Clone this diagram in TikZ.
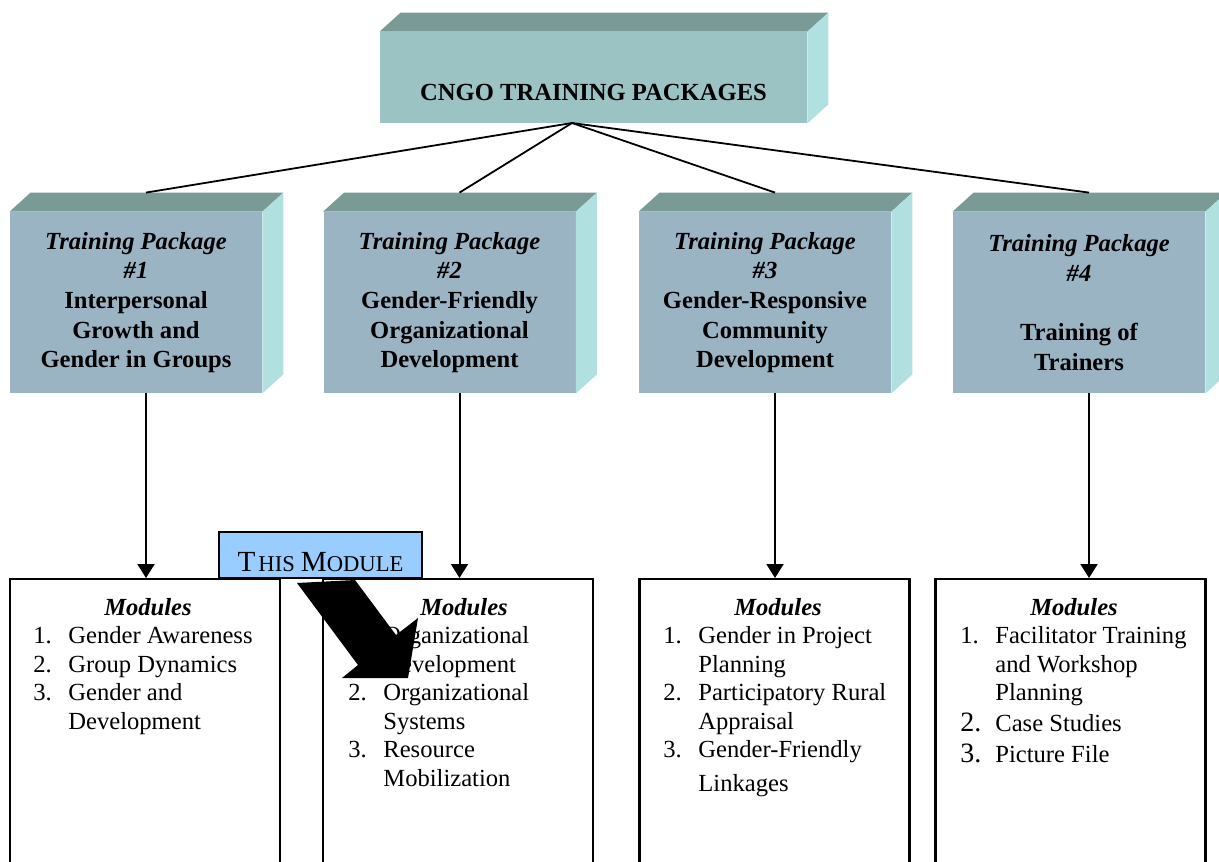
\documentclass[tikz,border=0pt]{standalone}
\usepackage{fontspec}
\setmainfont{Liberation Serif}
\usepackage{tikz}
\usetikzlibrary{arrows.meta}

\definecolor{frontgray}{HTML}{9BB4C4}
\definecolor{fronttitle}{HTML}{9BC3C3}
\definecolor{topgray}{HTML}{7A9A96}
\definecolor{sidecyan}{HTML}{B0E0E0}
\definecolor{modblue}{HTML}{99CCFF}

\begin{document}
\begin{tikzpicture}
  [x=0.5pt, y=-0.5pt, >={Triangle[length=7pt,width=8.5pt]},
   every node/.style={font=\fontsize{12.3}{14.3}\selectfont},
   pkg/.style={fill=frontgray, minimum width=126pt, minimum height=90.5pt, inner sep=0pt,
     align=center, font=\fontsize{12.3}{14.8}\selectfont\bfseries},
   modbox/.style={draw, line width=1.2pt, fill=white, minimum width=135pt,
     minimum height=170pt, anchor=north},
   modlist/.style={anchor=north west, inner sep=0pt},
   modhead/.style={font=\fontsize{12.3}{14.3}\selectfont\bfseries\itshape}]
  \useasboundingbox (0,0) rectangle (1219,861);

  % title and packages
  \node[pkg, fill=fronttitle, minimum width=213.5pt, minimum height=45.5pt,
    text height=23.5pt, text depth=0pt] (top) at (593.5,77.5) {CNGO TRAINING PACKAGES};
  \node[pkg] (pk1) at (136,302.5) {\textit{Training Package}\\ \textit{\#1}\\
    Interpersonal\\ Growth and\\ Gender in Groups};
  \node[pkg] (pk2) at (449.5,302.5) {\textit{Training Package}\\ \textit{\#2}\\
    Gender-Friendly\\ Organizational\\ Development};
  \node[pkg] (pk3) at (765,302.5) {\textit{Training Package}\\ \textit{\#3}\\
    Gender-Responsive\\ Community\\ Development};
  \node[pkg] (pk4) at (1079,302.5) {\textit{Training Package}\\ \textit{\#4}\\[14.8pt]
    Training of\\ Trainers};
  \foreach \b in {top,pk1,pk2,pk3,pk4} {
    \fill[topgray] (\b.north west) -- ++(21,-19) -- ([shift={(21,-19)}]\b.north east)
      -- (\b.north east) -- cycle;
    \fill[sidecyan] (\b.north east) -- ++(21,-19) -- ([shift={(21,-19)}]\b.south east)
      -- (\b.south east) -- cycle;
  }

  \coordinate (hub) at (572,123);
  \foreach \i in {1,...,4}
    \draw[line width=0.9pt] (hub) -- ([shift={(10,-19)}]pk\i.north);

  % module boxes
  \node[modbox] (mod1) at (145,578) {};
  \node[modbox] (mod2) at (458,578) {};
  \node[modbox] (mod3) at (774.5,578) {};
  \node[modbox] (mod4) at (1070.5,578) {};
  \foreach \i in {1,...,4}
    \draw[->, line width=1pt] ([xshift=5pt]pk\i.south) -- ([xshift=5pt]pk\i.south |- mod\i.north);

  \node[modhead] (mh1) at (148,607) {Modules};
  \node[modhead] (mh2) at (464,607) {Modules};
  \node[modhead] (mh3) at (778,607) {Modules};
  \node[modhead] (mh4) at (1074,607) {Modules};

  \node[modlist] (ls1) at (33,623) {\begin{tabular}{@{}p{17.5pt}@{}l@{}}
    1. & Gender Awareness\\
    2. & Group Dynamics\\
    3. & Gender and\\
       & Development
  \end{tabular}};
  \node[modlist] (ls2) at (348,623) {\begin{tabular}{@{}p{17.5pt}@{}l@{}}
    1. & Organizational\\
       & Development\\
    2. & Organizational\\
       & Systems\\
    3. & Resource\\
       & Mobilization
  \end{tabular}};
  \node[modlist] (ls3) at (663,623) {\begin{tabular}{@{}p{17.5pt}@{}l@{}}
    1. & Gender in Project\\
       & Planning\\
    2. & Participatory Rural\\
       & Appraisal\\
    3. & Gender-Friendly\\[2.5pt]
       & Linkages
  \end{tabular}};
  \node[modlist] (ls4) at (960,623) {\begin{tabular}{@{}p{17.5pt}@{}l@{}}
    1. & Facilitator Training\\
       & and Workshop\\
       & Planning\\[1pt]
    {\fontsize{14}{14}\selectfont 2.} & Case Studies\\[1.5pt]
    {\fontsize{14}{14}\selectfont 3.} & Picture File
  \end{tabular}};

  % this module
  \node[draw, line width=1pt, fill=modblue, minimum width=101.5pt, minimum height=23pt,
    inner sep=0pt, text height=16pt, text depth=0pt, font=\fontsize{14.6}{16}\selectfont]
    (thismod) at (320.5,555)
    {T\kern1.5pt{\fontsize{11.3}{12}\selectfont HIS}\kern3pt M{\fontsize{11.3}{12}\selectfont ODULE}};
  \fill (297,583) -- (358,665) -- (342,678) -- (408,678) -- (418,618) -- (396,635)
    -- (355,580) -- cycle;
\end{tikzpicture}
\end{document}
